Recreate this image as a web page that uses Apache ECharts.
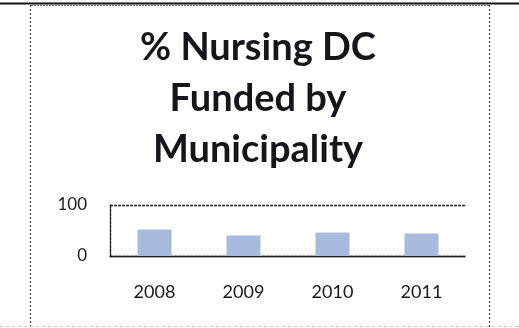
<!DOCTYPE html>
<html>
<head>
<meta charset="utf-8">
<script src="https://cdn.jsdelivr.net/npm/echarts@6/dist/echarts.min.js"></script>
<style>
  html, body { margin: 0; padding: 0; background: #ffffff; }
  #chart { width: 519px; height: 328px; }
</style>
</head>
<body>
<div id="chart"></div>
<script>
// Share of nursing day-care funded by the municipality, per year (%)
const years = ['2008', '2009', '2010', '2011'];
const fundedPct = [52, 40, 46, 44];
const yTicks = [0, 100];

const chart = echarts.init(document.getElementById('chart'), null, { renderer: 'canvas' });

const font = 'Lato, "Open Sans", sans-serif';
const dotted = { color: '#222222', width: 1.4, type: [3, 1] };

chart.setOption({
  backgroundColor: '#ffffff',
  animation: false,
  title: {
    text: '% Nursing DC\nFunded by\nMunicipality',
    left: 253,
    textAlign: 'center',
    top: 17,
    textStyle: {
      fontFamily: font,
      fontWeight: 'bold',
      fontSize: 38,
      lineHeight: 51,
      color: '#15151c'
    }
  },
  grid: { left: 110, right: 53, top: 205, bottom: 72, containLabel: false },
  xAxis: {
    type: 'category',
    data: years,
    axisLine: { show: true, lineStyle: dotted },
    axisTick: { show: false },
    axisLabel: {
      margin: 27,
      fontFamily: font,
      fontSize: 18,
      color: '#1a1a1a'
    }
  },
  yAxis: {
    type: 'value',
    min: yTicks[0],
    max: yTicks[yTicks.length - 1],
    interval: yTicks[1] - yTicks[0],
    axisLine: { show: true, lineStyle: dotted },
    axisTick: { show: false },
    splitLine: { show: true, lineStyle: dotted },
    axisLabel: {
      margin: 23,
      fontFamily: font,
      fontSize: 17,
      color: '#1a1a1a'
    }
  },
  series: [{
    type: 'bar',
    data: fundedPct,
    barWidth: 34,
    itemStyle: { color: '#a8bbde' }
  }],
  graphic: [
    // heavy rule across the top of the page
    { type: 'line', shape: { x1: 0, y1: 3.5, x2: 519, y2: 3.5 }, style: { stroke: '#111111', lineWidth: 1.8 } },
    // dotted frame around the chart box
    { type: 'line', shape: { x1: 31, y1: 5.5, x2: 489, y2: 5.5 }, style: { stroke: '#6a6a6a', lineWidth: 1, lineDash: [2, 1] } },
    { type: 'line', shape: { x1: 30.5, y1: 5, x2: 30.5, y2: 328 }, style: { stroke: '#4a4a3a', lineWidth: 1.2, lineDash: [2, 2] } },
    { type: 'line', shape: { x1: 489.5, y1: 5, x2: 489.5, y2: 328 }, style: { stroke: '#4a4a3a', lineWidth: 1.2, lineDash: [2, 2] } },
    { type: 'line', shape: { x1: 0, y1: 326.5, x2: 519, y2: 326.5 }, style: { stroke: '#c8c8c8', lineWidth: 1, lineDash: [3, 3] } }
  ]
});
</script>
</body>
</html>
